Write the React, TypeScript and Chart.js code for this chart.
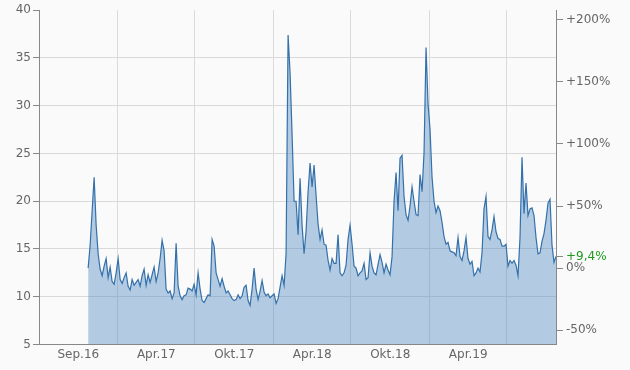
import React, { useEffect, useRef } from 'react';
import { Chart, registerables } from 'chart.js';

Chart.register(...registerables);

// ---- data ----
const AXIS_START = '2016-07-01';
const AXIS_END = '2019-10-24';
const FIRST_DATE = '2016-10-24';
const LAST_DATE = '2019-10-24';
const GRID_DATES = ['2017-01-01', '2017-07-01', '2018-01-01', '2018-07-01', '2019-01-01', '2019-07-01'];
const X_LABELS = ['Sep.16', 'Apr.17', 'Okt.17', 'Apr.18', 'Okt.18', 'Apr.19'];
const LEFT_MIN = 5;
const LEFT_MAX = 40;
const LEFT_STEP = 5;
const PCT_TICKS = [-50, 0, 50, 100, 150, 200];

const VALUES = [
  13.0, 15.4, 19.0, 22.5, 17.5, 14.5, 12.9, 12.2, 13.2, 14.0,
  12.0, 13.1, 11.6, 11.3, 12.5, 14.0, 11.8, 11.4, 12.0, 12.5,
  11.1, 10.7, 11.8, 11.2, 11.5, 11.8, 11.1, 12.2, 12.9, 11.2,
  12.3, 11.5, 12.3, 13.1, 11.6, 12.5, 14.0, 15.9, 14.8, 10.8,
  10.4, 10.6, 9.8, 10.4, 15.6, 11.1, 10.1, 9.7, 10.1, 10.2,
  10.9, 10.8, 10.6, 11.3, 10.2, 12.5, 10.8, 9.6, 9.4, 9.8,
  10.2, 10.1, 16.0, 15.3, 12.5, 11.8, 11.1, 11.9, 11.1, 10.4,
  10.6, 10.2, 9.8, 9.6, 9.7, 10.2, 9.8, 10.1, 11.0, 11.2,
  9.6, 9.1, 10.8, 13.0, 10.8, 9.7, 10.6, 11.7, 10.5, 10.1,
  10.3, 9.9, 10.1, 10.3, 9.3, 9.8, 11.0, 12.2, 11.2, 14.5,
  37.4, 33.4, 27.0, 20.0, 20.0, 16.5, 22.4, 17.5, 14.5, 16.9,
  21.0, 24.0, 21.5, 23.8, 20.6, 17.6, 16.0, 17.0, 15.5, 15.4,
  13.8, 12.8, 14.0, 13.5, 13.5, 16.5, 12.5, 12.2, 12.5, 13.3,
  16.0, 17.5, 15.5, 13.2, 13.0, 12.2, 12.5, 12.7, 13.5, 11.8,
  12.0, 14.6, 13.2, 12.5, 12.3, 13.4, 14.4, 13.6, 12.5, 13.4,
  12.8, 12.3, 14.2, 20.0, 23.0, 19.0, 24.5, 24.8, 20.5, 18.6,
  18.0, 19.5, 21.5, 20.0, 18.6, 18.5, 22.8, 21.0, 25.1, 36.1,
  30.2, 27.5, 22.5, 20.0, 18.8, 19.5, 19.0, 17.8, 16.3, 15.5,
  15.7, 14.8, 14.7, 14.6, 14.3, 16.2, 14.2, 13.8, 14.8, 16.2,
  14.0, 13.4, 13.7, 12.2, 12.5, 13.0, 12.6, 14.6, 19.2, 20.5,
  16.3, 16.0, 17.0, 18.4, 16.8, 16.1, 16.0, 15.3, 15.3, 15.5,
  13.2, 13.8, 13.5, 13.8, 13.3, 12.2, 16.2, 24.6, 18.7, 21.9,
  18.5, 19.2, 19.3, 18.5, 16.2, 14.5, 14.6, 15.8, 16.6, 18.0,
  19.8, 20.2, 15.4, 13.6, 14.22,
];

const dayOf = (d: string) => (Date.parse(d) - Date.parse(AXIS_START)) / 86400000;

export default function App() {
  const canvasRef = useRef<HTMLCanvasElement | null>(null);

  useEffect(() => {
    if (!canvasRef.current) return;
    Chart.defaults.font.family = "'DejaVu Sans', sans-serif";
    Chart.defaults.font.size = 12;

    const first = dayOf(FIRST_DATE);
    const last = dayOf(LAST_DATE);
    const n = VALUES.length;
    const points = VALUES.map((v, i) => ({ x: first + (i * (last - first)) / (n - 1), y: v }));
    const base = VALUES[0];
    const lastVal = VALUES[n - 1];

    const gridPos = GRID_DATES.map(dayOf);
    const bounds = [0, ...gridPos];
    const labelPos = X_LABELS.map((_, i) => (bounds[i] + bounds[i + 1]) / 2);
    const isGrid = (v: number) => gridPos.some((g) => Math.abs(g - v) < 1e-6);

    const leftTicks: number[] = [];
    for (let v = LEFT_MIN; v <= LEFT_MAX; v += LEFT_STEP) leftTicks.push(v);

    const fmtPct = (p: number) => {
      if (Math.abs(p) < 1e-9) return '0%';
      return (p > 0 ? '+' : '') + p + '%';
    };

    const chart = new Chart(canvasRef.current, {
      type: 'line',
      data: {
        datasets: [
          {
            data: points,
            borderColor: '#3470aa',
            borderWidth: 1.2,
            backgroundColor: 'rgba(70,130,190,0.4)',
            fill: 'start',
            pointRadius: 0,
            tension: 0,
            yAxisID: 'y',
            xAxisID: 'x',
          },
        ],
      },
      options: {
        animation: false,
        responsive: true,
        maintainAspectRatio: false,
        layout: { padding: { top: 10, left: 0, right: 0, bottom: 0 } },
        plugins: { legend: { display: false }, tooltip: { enabled: false } },
        scales: {
          x: {
            type: 'linear',
            min: 0,
            max: dayOf(AXIS_END),
            afterBuildTicks: (scale: any) => {
              scale.ticks = [...gridPos, ...labelPos].sort((a, b) => a - b).map((v) => ({ value: v }));
            },
            afterFit: (scale: any) => {
              scale.height = 25.5;
            },
            ticks: {
              autoSkip: false,
              maxRotation: 0,
              padding: 3,
              color: '#666',
              callback: (value: any) => {
                const idx = labelPos.findIndex((p) => Math.abs(p - Number(value)) < 1e-6);
                return idx >= 0 ? X_LABELS[idx] : '';
              },
            },
            grid: {
              drawTicks: false,
              color: (ctx: any) => (ctx.tick && isGrid(ctx.tick.value) ? '#dadada' : 'rgba(0,0,0,0)'),
            },
            border: { color: '#888', width: 1 },
          },
          y: {
            type: 'linear',
            position: 'left',
            min: LEFT_MIN,
            max: LEFT_MAX,
            afterBuildTicks: (scale: any) => {
              scale.ticks = leftTicks.map((v) => ({ value: v }));
            },
            afterFit: (scale: any) => {
              scale.width = 39;
            },
            ticks: { color: '#666', padding: 2, autoSkip: false },
            grid: {
              color: (ctx: any) => (ctx.tick && ctx.tick.value === LEFT_MAX ? 'rgba(0,0,0,0)' : '#dadada'),
              tickColor: '#888',
              tickLength: 6,
            },
            border: { color: '#888', width: 1 },
          },
          y2: {
            type: 'linear',
            position: 'right',
            min: LEFT_MIN,
            max: LEFT_MAX,
            afterBuildTicks: (scale: any) => {
              const t = PCT_TICKS.map((p) => base * (1 + p / 100));
              t.push(lastVal);
              scale.ticks = t.sort((a, b) => a - b).map((v) => ({ value: v }));
            },
            afterFit: (scale: any) => {
              scale.width = 74;
            },
            ticks: {
              autoSkip: false,
              padding: 3,
              color: (ctx: any) => (ctx.tick && Math.abs(ctx.tick.value - lastVal) < 1e-9 ? '#1f9a1f' : '#666'),
              callback: (value: any) => {
                const v = Number(value);
                if (Math.abs(v - lastVal) < 1e-9) {
                  const p = (lastVal / base - 1) * 100;
                  return (p >= 0 ? '+' : '') + p.toFixed(1).replace('.', ',') + '%';
                }
                return fmtPct(Math.round((v / base - 1) * 100));
              },
            },
            grid: {
              drawOnChartArea: false,
              tickColor: '#888',
              tickLength: 7,
            },
            border: { color: '#888', width: 1 },
          },
        },
      },
    } as any);

    return () => chart.destroy();
  }, []);

  return (
    <div
      style={{
        position: 'absolute',
        left: 0,
        top: 0,
        width: 630,
        height: 370,
        background: '#fafafa',
      }}
    >
      <canvas ref={canvasRef} style={{ display: 'block' }} />
    </div>
  );
}
